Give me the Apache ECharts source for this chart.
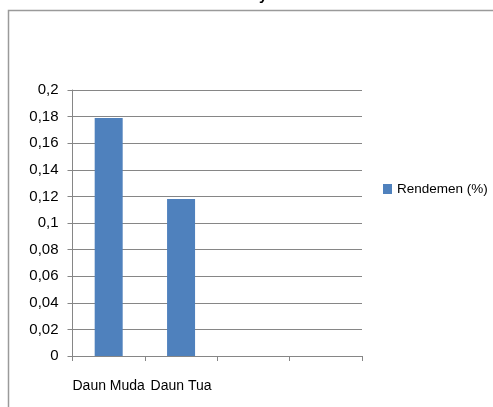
<!DOCTYPE html>
<html>
<head>
<meta charset="utf-8">
<script src="https://cdn.jsdelivr.net/npm/echarts@6/dist/echarts.min.js"></script>
<style>
html,body{margin:0;padding:0;background:#fff;}
#main{width:493px;height:407px;}
</style>
</head>
<body>
<div id="main"></div>
<script>
const categories = ['Daun Muda', 'Daun Tua', '', ''];
const seriesName = 'Rendemen (%)';
const rendemen = [0.179, 0.118, null, null];
const yMin = 0, yMax = 0.2, yStep = 0.02;

const FONT = '"Liberation Sans Narrow", "Liberation Sans", sans-serif';
const chart = echarts.init(document.getElementById('main'), null, {renderer: 'canvas'});
chart.setOption({
  animation: false,
  backgroundColor: '#fff',
  graphic: [
    {type: 'rect', shape: {x: 8.5, y: 10.5, width: 500, height: 420},
     style: {fill: 'none', stroke: '#9a9a9a', lineWidth: 1.5}, silent: true},
    {type: 'text', left: 259, top: -12,
     style: {text: 'y', font: 'bold 15px ' + FONT, fill: '#000'}}
  ],
  grid: {left: 72.5, right: 131, top: 90, bottom: 51, containLabel: false},
  legend: {
    data: [seriesName], orient: 'vertical', left: 378, top: 177,
    itemWidth: 9, itemHeight: 10, itemGap: 4, padding: [5, 0, 5, 5],
    textStyle: {fontFamily: FONT, fontSize: 13.5, color: '#000'},
    icon: 'rect'
  },
  xAxis: {
    type: 'category', data: categories,
    axisLine: {lineStyle: {color: '#868686', width: 1}},
    axisTick: {show: true, alignWithLabel: false, length: 5, lineStyle: {color: '#868686'}},
    axisLabel: {fontFamily: FONT, fontSize: 14, color: '#000', margin: 23, interval: 0}
  },
  yAxis: {
    type: 'value', min: yMin, max: yMax, interval: yStep,
    axisLine: {show: true, lineStyle: {color: '#868686', width: 1}},
    axisTick: {show: true, length: 5, lineStyle: {color: '#868686'}},
    splitLine: {lineStyle: {color: '#868686', width: 1}},
    axisLabel: {fontFamily: FONT, fontSize: 15, color: '#000', margin: 14,
      formatter: v => String(Math.round(v * 100) / 100).replace('.', ',')}
  },
  series: [{
    name: seriesName, type: 'bar', data: rendemen,
    barWidth: 28,
    itemStyle: {color: '#4f81bd'}
  }]
});
</script>
</body>
</html>
